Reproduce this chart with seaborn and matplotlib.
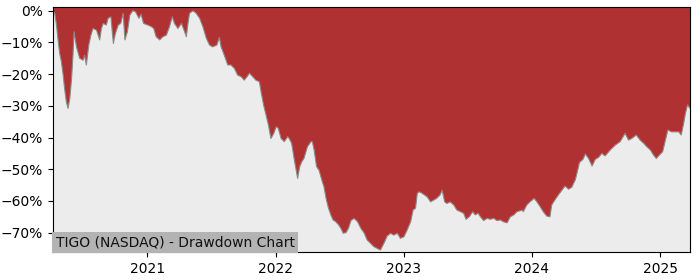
import matplotlib
matplotlib.use("Agg")
import matplotlib.pyplot as plt
import matplotlib.dates as mdates
import matplotlib.ticker as mticker
import pandas as pd
import seaborn as sns

title = "TIGO (NASDAQ) - Drawdown Chart"

dates = [
    "2020-04-07", "2020-04-12", "2020-04-17", "2020-04-22", "2020-04-26", "2020-05-01",
    "2020-05-06", "2020-05-10", "2020-05-15", "2020-05-20", "2020-05-25", "2020-05-30",
    "2020-06-03", "2020-06-06", "2020-06-13", "2020-06-22", "2020-07-02", "2020-07-06",
    "2020-07-11", "2020-07-18", "2020-07-24", "2020-07-30", "2020-08-09", "2020-08-18",
    "2020-08-23", "2020-08-28", "2020-09-06", "2020-09-11", "2020-09-19", "2020-09-26",
    "2020-10-02", "2020-10-10", "2020-10-17", "2020-10-24", "2020-10-29", "2020-11-05",
    "2020-11-12", "2020-11-20", "2020-11-28", "2020-12-08", "2020-12-14", "2020-12-21",
    "2021-01-02", "2021-01-12", "2021-01-19", "2021-01-26", "2021-02-05", "2021-02-14",
    "2021-02-24", "2021-03-05", "2021-03-13", "2021-03-19", "2021-03-29", "2021-04-08",
    "2021-04-17", "2021-04-22", "2021-04-26", "2021-05-01", "2021-05-11", "2021-05-20",
    "2021-05-30", "2021-06-08", "2021-06-18", "2021-06-27", "2021-07-06", "2021-07-18",
    "2021-07-25", "2021-07-30", "2021-08-08", "2021-08-18", "2021-08-27", "2021-09-06",
    "2021-09-15", "2021-09-25", "2021-10-04", "2021-10-12", "2021-10-19", "2021-10-28",
    "2021-11-06", "2021-11-16", "2021-11-21", "2021-11-28", "2021-12-05", "2021-12-12",
    "2021-12-19", "2021-12-27", "2022-01-03", "2022-01-09", "2022-01-17", "2022-01-26",
    "2022-02-05", "2022-02-09", "2022-02-16", "2022-02-23", "2022-03-05", "2022-03-11",
    "2022-03-17", "2022-03-23", "2022-04-02", "2022-04-12", "2022-04-16", "2022-04-21",
    "2022-04-28", "2022-05-05", "2022-05-13", "2022-05-19", "2022-05-26", "2022-06-01",
    "2022-06-08", "2022-06-14", "2022-06-22", "2022-06-30", "2022-07-06", "2022-07-13",
    "2022-07-21", "2022-07-28", "2022-08-04", "2022-08-13", "2022-08-23", "2022-09-01",
    "2022-09-11", "2022-09-19", "2022-09-29", "2022-10-08", "2022-10-18", "2022-10-27",
    "2022-11-01", "2022-11-08", "2022-11-15", "2022-11-25", "2022-12-04", "2022-12-14",
    "2022-12-23", "2023-01-02", "2023-01-11", "2023-01-21", "2023-01-28", "2023-02-04",
    "2023-02-09", "2023-02-14", "2023-02-23", "2023-03-09", "2023-03-19", "2023-03-28",
    "2023-04-05", "2023-04-15", "2023-04-21", "2023-04-28", "2023-05-04", "2023-05-14",
    "2023-05-24", "2023-06-02", "2023-06-12", "2023-06-21", "2023-06-28", "2023-07-07",
    "2023-07-17", "2023-07-24", "2023-08-01", "2023-08-08", "2023-08-17", "2023-08-27",
    "2023-09-05", "2023-09-15", "2023-09-24", "2023-10-04", "2023-10-13", "2023-10-23",
    "2023-11-01", "2023-11-11", "2023-11-20", "2023-12-05", "2023-12-08", "2023-12-18",
    "2023-12-27", "2024-01-08", "2024-01-16", "2024-01-25", "2024-02-03", "2024-02-13",
    "2024-02-22", "2024-02-27", "2024-03-07", "2024-03-17", "2024-03-27", "2024-04-05",
    "2024-04-15", "2024-04-24", "2024-05-04", "2024-05-10", "2024-05-16", "2024-05-26",
    "2024-06-02", "2024-06-11", "2024-06-21", "2024-06-30", "2024-07-10", "2024-07-19",
    "2024-07-28", "2024-08-12", "2024-08-26", "2024-09-09", "2024-09-23", "2024-10-03",
    "2024-10-12", "2024-10-25", "2024-11-05", "2024-11-15", "2024-11-24", "2024-12-04",
    "2024-12-13", "2024-12-21", "2024-12-30", "2025-01-08", "2025-01-16", "2025-01-23",
    "2025-02-02", "2025-02-13", "2025-02-23", "2025-03-02", "2025-03-09", "2025-03-14",
    "2025-03-20", "2025-03-27",
]

drawdown_pct = [
    0.0, -0.8, -4.5, -9.8, -13.4, -16.1,
    -20.3, -24.5, -28.7, -30.8, -27.6, -21.3,
    -14.0, -6.6, -11.4, -15.0, -15.6, -14.0,
    -17.1, -10.8, -7.7, -5.6, -6.1, -9.2,
    -5.6, -4.0, -4.5, -2.4, -1.9, -10.3,
    -7.1, -4.5, -4.0, -0.8, -9.2, -6.6,
    -1.4, 0.0, -0.3, -2.4, -1.1, -4.0,
    -4.5, -5.0, -5.6, -8.2, -9.2, -8.2,
    -7.7, -5.0, -1.9, -4.0, -5.6, -4.0,
    -6.6, -8.2, -4.5, -0.8, 0.0, -0.8,
    -2.4, -5.0, -8.7, -10.8, -11.4, -10.8,
    -8.4, -11.4, -14.0, -17.1, -17.1, -18.2,
    -20.3, -20.8, -21.9, -20.8, -19.7, -20.8,
    -21.9, -22.4, -25.6, -29.7, -32.9, -36.1,
    -40.3, -38.7, -36.6, -37.1, -40.3, -41.3,
    -39.7, -40.3, -41.8, -46.6, -52.9, -49.2,
    -47.6, -46.6, -42.9, -41.3, -41.3, -43.9,
    -49.2, -50.3, -53.4, -55.5, -59.7, -62.3,
    -64.5, -66.0, -66.6, -67.6, -68.6, -70.2,
    -70.0, -68.6, -66.2, -65.5, -66.6, -68.6,
    -70.2, -72.3, -73.4, -74.4, -75.0, -75.5,
    -74.4, -72.9, -71.1, -70.2, -70.8, -70.2,
    -71.8, -71.3, -69.2, -66.6, -62.9, -62.3,
    -57.6, -57.1, -57.6, -58.7, -60.3, -59.7,
    -59.2, -58.1, -56.6, -60.3, -60.8, -60.3,
    -61.3, -62.9, -63.4, -63.9, -65.8, -65.0,
    -63.4, -64.4, -63.9, -65.0, -66.2, -65.5,
    -65.8, -65.5, -66.2, -66.0, -66.6, -66.9,
    -65.0, -64.4, -63.4, -62.9, -63.4, -61.3,
    -60.3, -59.2, -60.3, -61.8, -63.4, -64.8,
    -65.0, -61.3, -59.7, -58.1, -56.6, -55.3,
    -56.3, -55.7, -53.4, -50.8, -47.9, -46.9,
    -45.2, -46.6, -49.0, -46.9, -46.2, -45.0,
    -45.8, -43.9, -42.4, -41.3, -38.7, -40.8,
    -40.3, -39.2, -40.8, -41.8, -42.9, -43.9,
    -45.5, -46.6, -45.5, -44.5, -40.8, -37.6,
    -38.2, -38.2, -38.2, -39.2, -35.5, -32.4,
    -29.7, -30.8,
]

df = pd.DataFrame({"date": pd.to_datetime(dates), "drawdown": drawdown_pct})

fig = plt.figure(figsize=(7, 2.8), dpi=100)
ax = fig.add_axes([0.0757, 0.099, 0.91, 0.875])
ax.set_facecolor("#b03131")
ax.fill_between(df["date"], df["drawdown"], -100, color="#ececec", lw=0, zorder=1)
sns.lineplot(data=df, x="date", y="drawdown", ax=ax, color="#8a8a8a", lw=0.8, zorder=2)

ax.set_ylim(-76.2, 1.1)
ax.set_xlim(df["date"].iloc[0], df["date"].iloc[-1])
ax.set_yticks([0, -10, -20, -30, -40, -50, -60, -70])
ax.yaxis.set_major_formatter(
    mticker.FuncFormatter(lambda v, p: f"{v:.0f}%".replace("-", "\u2212"))
)
ax.xaxis.set_major_locator(mdates.YearLocator())
ax.xaxis.set_major_formatter(mdates.DateFormatter("%Y"))
ax.set_xlabel("")
ax.set_ylabel("")
ax.tick_params(labelsize=10)

ax.text(0.004, 0.012, title, transform=ax.transAxes, ha="left", va="bottom",
        fontsize=10, color="#111111", zorder=5,
        bbox=dict(facecolor="#b3b3b3", edgecolor="none", pad=2.5))

fig.savefig("out.png", dpi=100)
